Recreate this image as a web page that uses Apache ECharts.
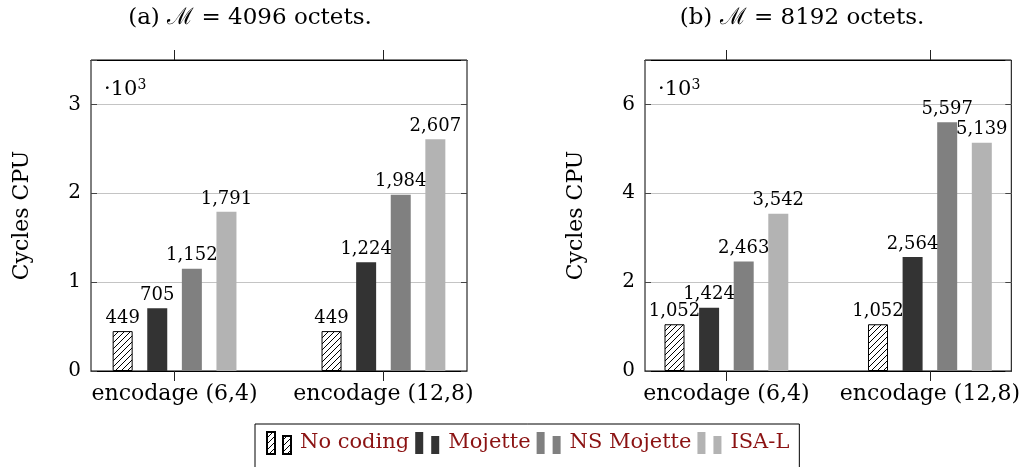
<!DOCTYPE html>
<html>
<head>
<meta charset="utf-8">
<script src="https://cdn.jsdelivr.net/npm/echarts@6/dist/echarts.min.js"></script>
<style>
  html, body { margin: 0; padding: 0; background: #fff; }
  #chart { width: 1023px; height: 467px; }
</style>
</head>
<body>
<div id="chart"></div>
<script>
const categories = ['encodage (6,4)', 'encodage (12,8)'];
const seriesNames = ['No coding', 'Mojette', 'NS Mojette', 'ISA-L'];
const panelTitles = ['(a) ℳ = 4096 octets.', '(b) ℳ = 8192 octets.'];

// CPU cycles, one value per category
const noCoding4096 = [449, 449];
const mojette4096 = [705, 1224];
const nsMojette4096 = [1152, 1984];
const isal4096 = [1791, 2607];

const noCoding8192 = [1052, 1052];
const mojette8192 = [1424, 2564];
const nsMojette8192 = [2463, 5597];
const isal8192 = [3542, 5139];

const yMax = [3500, 7000];
const yStep = [1000, 2000];
const catPos = [0, 1];

const serif = 'DejaVu Serif';
const barColors = [null, '#333333', '#808080', '#b3b3b3'];

// north east lines pattern for "No coding"
const hatch = document.createElement('canvas');
hatch.width = 6;
hatch.height = 6;
(function () {
  const ctx = hatch.getContext('2d');
  ctx.fillStyle = '#fff';
  ctx.fillRect(0, 0, 6, 6);
  ctx.strokeStyle = '#000';
  ctx.lineWidth = 1;
  ctx.beginPath();
  ctx.moveTo(-1, 7); ctx.lineTo(7, -1);
  ctx.moveTo(-1, 1); ctx.lineTo(1, -1);
  ctx.moveTo(5, 7); ctx.lineTo(7, 5);
  ctx.stroke();
})();

const chart = echarts.init(document.getElementById('chart'), null, { renderer: 'canvas' });

function makeBars(panel, groups) {
  return groups.map((vals, i) => ({
    name: seriesNames[i],
    type: 'bar',
    xAxisIndex: panel * 2,
    yAxisIndex: panel * 2,
    barWidth: 20,
    barGap: '73%',
    data: vals.map((v, k) => [catPos[k], v]),
    itemStyle: i === 0
      ? { color: { image: hatch, repeat: 'repeat' }, borderColor: '#000', borderWidth: 1 }
      : { color: barColors[i] },
    label: {
      show: true,
      position: 'top',
      distance: 4,
      fontFamily: serif,
      fontSize: 18,
      color: '#000',
      formatter: p => p.value[1].toLocaleString('en-US')
    }
  }));
}

const grids = [
  { left: 91, top: 60, width: 376, height: 311 },
  { left: 645, top: 60, width: 376, height: 311 }
];

const xAxes = [];
const yAxes = [];
grids.forEach((g, p) => {
  ['bottom', 'top'].forEach(pos => {
    xAxes.push({
      type: 'value', gridIndex: p, min: -0.4, max: 1.4, position: pos,
      axisLine: { show: true, onZero: false, lineStyle: { color: '#000', width: 1 } },
      splitLine: { show: false },
      axisTick: { show: true, customValues: catPos, length: 10, lineStyle: { color: '#222', width: 1 } },
      axisLabel: {
        show: pos === 'bottom',
        customValues: catPos, margin: 12, color: '#000',
        fontFamily: serif, fontSize: 22,
        formatter: v => categories[Math.round(v)] || ''
      }
    });
  });
  yAxes.push({
    type: 'value', gridIndex: p, min: 0, max: yMax[p], interval: yStep[p],
    position: 'left',
    name: 'Cycles CPU', nameLocation: 'middle', nameGap: 58,
    nameTextStyle: { fontFamily: serif, fontSize: 22, color: '#000' },
    axisLine: { show: false, onZero: false },
    axisTick: { inside: true, length: 6, lineStyle: { color: '#444' } },
    splitLine: { lineStyle: { color: '#c4c4c4', width: 1 } },
    axisLabel: {
      margin: 10, color: '#000', fontFamily: serif, fontSize: 20,
      formatter: v => (v % yStep[p] ? '' : String(v / 1000))
    }
  });
  yAxes.push({
    type: 'value', gridIndex: p, min: 0, max: yMax[p], interval: yStep[p],
    position: 'right',
    axisLine: { show: false, onZero: false },
    axisTick: { inside: true, length: 6, lineStyle: { color: '#444' } },
    splitLine: { show: false },
    axisLabel: { show: false }
  });
});

const powerText = {
  type: 'text',
  style: {
    text: '·10{sup|3}',
    align: 'left', verticalAlign: 'middle',
    font: '21px "DejaVu Serif"', fill: '#000',
    rich: { sup: { fontSize: 14, fontFamily: serif, verticalAlign: 'top', padding: [0, 0, 10, 0] } }
  }
};

chart.setOption({
  animation: false,
  backgroundColor: '#fff',
  grid: grids.map(g => Object.assign({ show: true, borderColor: '#000', borderWidth: 1, backgroundColor: 'transparent' }, g)),
  xAxis: xAxes,
  yAxis: yAxes,
  legend: {
    data: seriesNames,
    left: 255,
    top: 424,
    padding: [7, 10, 20, 11],
    itemGap: 6,
    itemWidth: 24,
    itemHeight: 22,
    icon: 'path://M0,0h8v22h-8z M16,4h8v18h-8z',
    borderColor: '#000',
    borderWidth: 1,
    backgroundColor: '#fff',
    textStyle: { fontFamily: serif, fontSize: 21, color: '#8b1212', padding: [0, 0, 0, 4] }
  },
  graphic: [
    { type: 'text', x: 250, y: 18, style: { text: panelTitles[0], align: 'center', verticalAlign: 'middle', font: '23px "DejaVu Serif"', fill: '#000' } },
    { type: 'text', x: 802, y: 18, style: { text: panelTitles[1], align: 'center', verticalAlign: 'middle', font: '23px "DejaVu Serif"', fill: '#000' } },
    Object.assign({ x: 104, y: 90 }, powerText),
    Object.assign({ x: 658, y: 90 }, powerText)
  ],
  series: [
    ...makeBars(0, [noCoding4096, mojette4096, nsMojette4096, isal4096]),
    ...makeBars(1, [noCoding8192, mojette8192, nsMojette8192, isal8192])
  ]
});
</script>
</body>
</html>
